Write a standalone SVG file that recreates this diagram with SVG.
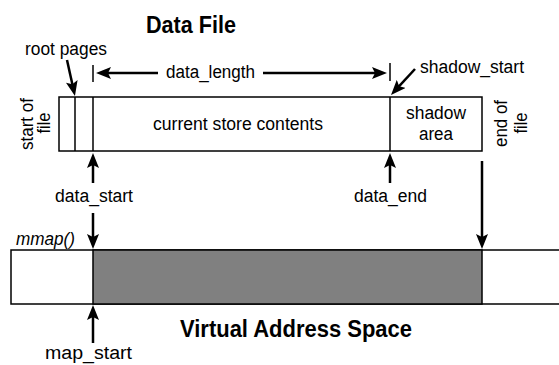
<svg xmlns="http://www.w3.org/2000/svg" width="559" height="365" viewBox="0 0 559 365">
<style>
text{font-family:"Liberation Sans",Arial,Helvetica,sans-serif;font-size:18px;fill:#000}
.title{font-weight:bold;font-size:23px}
.it{font-style:italic}
.box{fill:#fff;stroke:#000;stroke-width:1.5}
.div{stroke:#000;stroke-width:1.5;fill:none}
.arr{stroke:#000;stroke-width:2.5;fill:none;marker-end:url(#ah)}
.tick{stroke:#000;stroke-width:1.5}
</style>
<defs>
<marker id="ah" markerUnits="userSpaceOnUse" markerWidth="15" markerHeight="12" refX="5" refY="6" orient="auto" viewBox="0 0 15 12">
<path d="M0,0 L15,6 L0,12 L3,6 z" fill="#000"/>
</marker>
</defs>
<g id="title-data-file"><text class="title" x="146" y="33" textLength="90" lengthAdjust="spacingAndGlyphs">Data File</text></g>
<g id="data-file">
<rect class="box" x="59" y="97" width="423" height="54"/>
<line class="div" x1="75" y1="97" x2="75" y2="151"/>
<line class="div" x1="93" y1="97" x2="93" y2="151"/>
<line class="div" x1="390" y1="97" x2="390" y2="151"/>
<text x="153" y="130" textLength="170" lengthAdjust="spacingAndGlyphs">current store contents</text>
<text x="436" y="119" text-anchor="middle" textLength="60" lengthAdjust="spacingAndGlyphs">shadow</text>
<text x="436" y="140" text-anchor="middle" textLength="34" lengthAdjust="spacingAndGlyphs">area</text>
</g>
<g id="label-start-of-file">
<text transform="translate(33,124) rotate(-90)" text-anchor="middle" textLength="52" lengthAdjust="spacingAndGlyphs">start of</text>
<text transform="translate(50,123) rotate(-90)" text-anchor="middle" textLength="21" lengthAdjust="spacingAndGlyphs">file</text>
</g>
<g id="label-end-of-file">
<text transform="translate(507,123.5) rotate(-90)" text-anchor="middle" textLength="47" lengthAdjust="spacingAndGlyphs">end of</text>
<text transform="translate(527,123) rotate(-90)" text-anchor="middle" textLength="21" lengthAdjust="spacingAndGlyphs">file</text>
</g>
<g id="label-root-pages"><text x="25" y="55" textLength="82" lengthAdjust="spacingAndGlyphs">root pages</text></g>
<g id="label-data-length"><text x="166" y="78" textLength="89" lengthAdjust="spacingAndGlyphs">data_length</text></g>
<g id="label-shadow-start"><text x="420" y="72.5" textLength="104" lengthAdjust="spacingAndGlyphs">shadow_start</text></g>
<g id="label-data-start"><text x="55" y="202" textLength="78" lengthAdjust="spacingAndGlyphs">data_start</text></g>
<g id="label-data-end"><text x="354" y="202" textLength="73" lengthAdjust="spacingAndGlyphs">data_end</text></g>
<g id="label-mmap"><text class="it" x="16" y="245" textLength="59" lengthAdjust="spacingAndGlyphs">mmap()</text></g>
<g id="virtual-address-space">
<rect class="box" x="11" y="250" width="560" height="54"/>
<rect x="93" y="250" width="389" height="54" fill="#808080" stroke="#000" stroke-width="1.5"/>
</g>
<g id="title-virtual-address-space"><text class="title" x="180" y="337" textLength="232" lengthAdjust="spacingAndGlyphs">Virtual Address Space</text></g>
<g id="label-map-start"><text x="45" y="359" textLength="87" lengthAdjust="spacingAndGlyphs">map_start</text></g>
<g id="connectors">
<line class="tick" x1="93" y1="65" x2="93" y2="82"/>
<line class="tick" x1="390" y1="63" x2="390" y2="81"/>
<line class="arr" x1="67" y1="60" x2="72.8" y2="86.2"/>
<line class="arr" x1="158" y1="73" x2="106" y2="73"/>
<line class="arr" x1="263" y1="73" x2="377" y2="73"/>
<line class="arr" x1="415" y1="69" x2="397.8" y2="87.6"/>
<line class="arr" x1="93" y1="183" x2="93" y2="163"/>
<line class="arr" x1="390" y1="183" x2="390" y2="163"/>
<line class="arr" x1="93" y1="213" x2="93" y2="239"/>
<line class="arr" x1="482" y1="161" x2="482" y2="239"/>
<line class="arr" x1="93" y1="343" x2="93" y2="315"/>
</g>
</svg>
